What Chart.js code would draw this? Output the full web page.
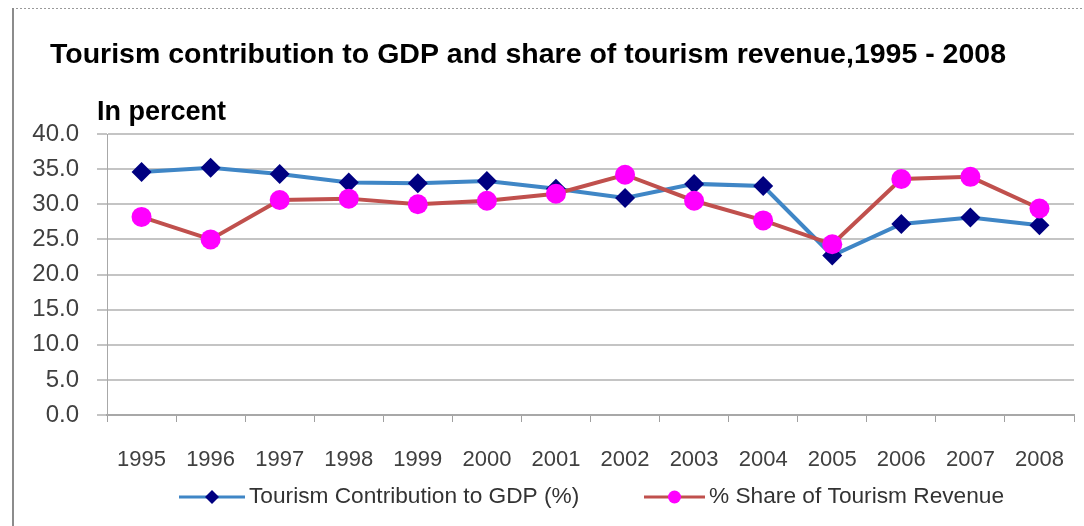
<!DOCTYPE html>
<html>
<head>
<meta charset="utf-8">
<script src="https://cdn.jsdelivr.net/npm/chart.js@4/dist/chart.umd.min.js"></script>
<style>
  html, body { margin: 0; padding: 0; background: #ffffff; }
  #wrap { width: 1084px; height: 526px; position: relative; }
</style>
</head>
<body>
<div id="wrap"><canvas id="c" width="1084" height="526"></canvas></div>
<script>
const years = ['1995','1996','1997','1998','1999','2000','2001','2002','2003','2004','2005','2006','2007','2008'];
const gdpShare = [34.6, 35.2, 34.3, 33.1, 33.0, 33.3, 32.2, 30.9, 32.9, 32.6, 22.7, 27.2, 28.1, 27.0];
const revenueShare = [28.2, 25.0, 30.6, 30.8, 30.0, 30.5, 31.5, 34.2, 30.5, 27.7, 24.3, 33.6, 33.9, 29.4];
const seriesNames = ['Tourism Contribution to GDP (%)', '% Share of Tourism Revenue'];
const titleText = 'Tourism contribution to GDP and share of tourism revenue,1995 - 2008';
const unitText = 'In percent';
const yTicks = [0, 5, 10, 15, 20, 25, 30, 35, 40];

const BLUE_LINE = '#3f86c6';
const NAVY = '#000080';
const RED_LINE = '#c0504d';
const MAGENTA = '#ff00ff';
const FONT = "'Liberation Sans', Arial, sans-serif";

const decor = {
  id: 'decor',
  beforeDraw(chart) {
    const ctx = chart.ctx;
    ctx.save();
    ctx.fillStyle = '#ffffff';
    ctx.fillRect(0, 0, chart.width, chart.height);
    // frame
    ctx.strokeStyle = '#9a9a9a';
    ctx.lineWidth = 1;
    ctx.setLineDash([2, 2]);
    ctx.beginPath();
    ctx.moveTo(12, 8.5); ctx.lineTo(1084, 8.5);
    ctx.stroke();
    ctx.setLineDash([]);
    ctx.strokeStyle = '#8c8c8c';
    ctx.lineWidth = 2;
    ctx.beginPath();
    ctx.moveTo(13, 8); ctx.lineTo(13, 526);
    ctx.stroke();
    // title
    ctx.fillStyle = '#000000';
    ctx.font = 'bold 28.5px ' + FONT;
    ctx.textAlign = 'center';
    ctx.textBaseline = 'middle';
    ctx.fillText(titleText, 528, 55);
    ctx.font = 'bold 27px ' + FONT;
    ctx.textAlign = 'left';
    ctx.fillText(unitText, 97, 113);
    ctx.restore();
  },
  afterDraw(chart) {
    const ctx = chart.ctx;
    ctx.save();
    const y = 497;
    const items = [
      {x0: 179, x1: 245, tx: 249, color: BLUE_LINE, marker: 'diamond', mcolor: NAVY, label: seriesNames[0]},
      {x0: 644, x1: 705, tx: 709, color: RED_LINE, marker: 'circle', mcolor: MAGENTA, label: seriesNames[1]}
    ];
    items.forEach(it => {
      ctx.strokeStyle = it.color;
      ctx.lineWidth = 3;
      ctx.beginPath();
      ctx.moveTo(it.x0, y); ctx.lineTo(it.x1, y);
      ctx.stroke();
      const cx = (it.x0 + it.x1) / 2;
      ctx.fillStyle = it.mcolor;
      ctx.beginPath();
      if (it.marker === 'diamond') {
        ctx.moveTo(cx, y - 7); ctx.lineTo(cx + 7, y); ctx.lineTo(cx, y + 7); ctx.lineTo(cx - 7, y);
        ctx.closePath();
      } else {
        ctx.arc(cx, y, 6.5, 0, Math.PI * 2);
      }
      ctx.fill();
      ctx.fillStyle = '#333333';
      ctx.font = '22.7px ' + FONT;
      ctx.textAlign = 'left';
      ctx.textBaseline = 'middle';
      ctx.fillText(it.label, it.tx, y);
    });
    ctx.restore();
  }
};

new Chart(document.getElementById('c'), {
  type: 'line',
  data: {
    labels: years,
    datasets: [
      {
        label: seriesNames[0],
        data: gdpShare,
        borderColor: BLUE_LINE,
        borderWidth: 4,
        pointStyle: 'rectRot',
        pointRadius: 10,
        pointBackgroundColor: NAVY,
        pointBorderColor: NAVY,
        pointBorderWidth: 0,
        tension: 0,
        order: 2
      },
      {
        label: seriesNames[1],
        data: revenueShare,
        borderColor: RED_LINE,
        borderWidth: 4,
        pointStyle: 'circle',
        pointRadius: 10,
        pointBackgroundColor: MAGENTA,
        pointBorderColor: MAGENTA,
        pointBorderWidth: 0,
        tension: 0,
        order: 1
      }
    ]
  },
  options: {
    responsive: false,
    animation: false,
    devicePixelRatio: 1,
    layout: { padding: { left: 12, right: 6, top: 134, bottom: 51 } },
    plugins: {
      legend: { display: false },
      title: { display: false },
      tooltip: { enabled: false }
    },
    scales: {
      x: {
        type: 'category',
        offset: true,
        grid: {
          offset: true,
          drawOnChartArea: false,
          drawTicks: true,
          tickLength: 7,
          color: '#a0a0a0',
          lineWidth: 1
        },
        border: { display: true, color: '#a8a8a8', width: 2 },
        ticks: {
          color: '#404040',
          font: { family: FONT, size: 22 },
          padding: 25,
          maxRotation: 0,
          autoSkip: false
        },
        afterFit(scale) { scale.height = 60; scale.paddingLeft = 0; scale.paddingRight = 0; }
      },
      y: {
        min: 0,
        max: 40,
        afterBuildTicks(scale) { scale.ticks = yTicks.map(v => ({value: v})); },
        grid: {
          color: '#c4c4c4',
          lineWidth: 2,
          drawTicks: true,
          tickLength: 10
        },
        border: { display: true, color: '#a8a8a8', width: 1 },
        ticks: {
          color: '#404040',
          font: { family: FONT, size: 24 },
          padding: 18,
          callback: v => Number(v).toFixed(1)
        },
        afterFit(scale) { scale.width = 95; }
      }
    }
  },
  plugins: [decor]
});
</script>
</body>
</html>
